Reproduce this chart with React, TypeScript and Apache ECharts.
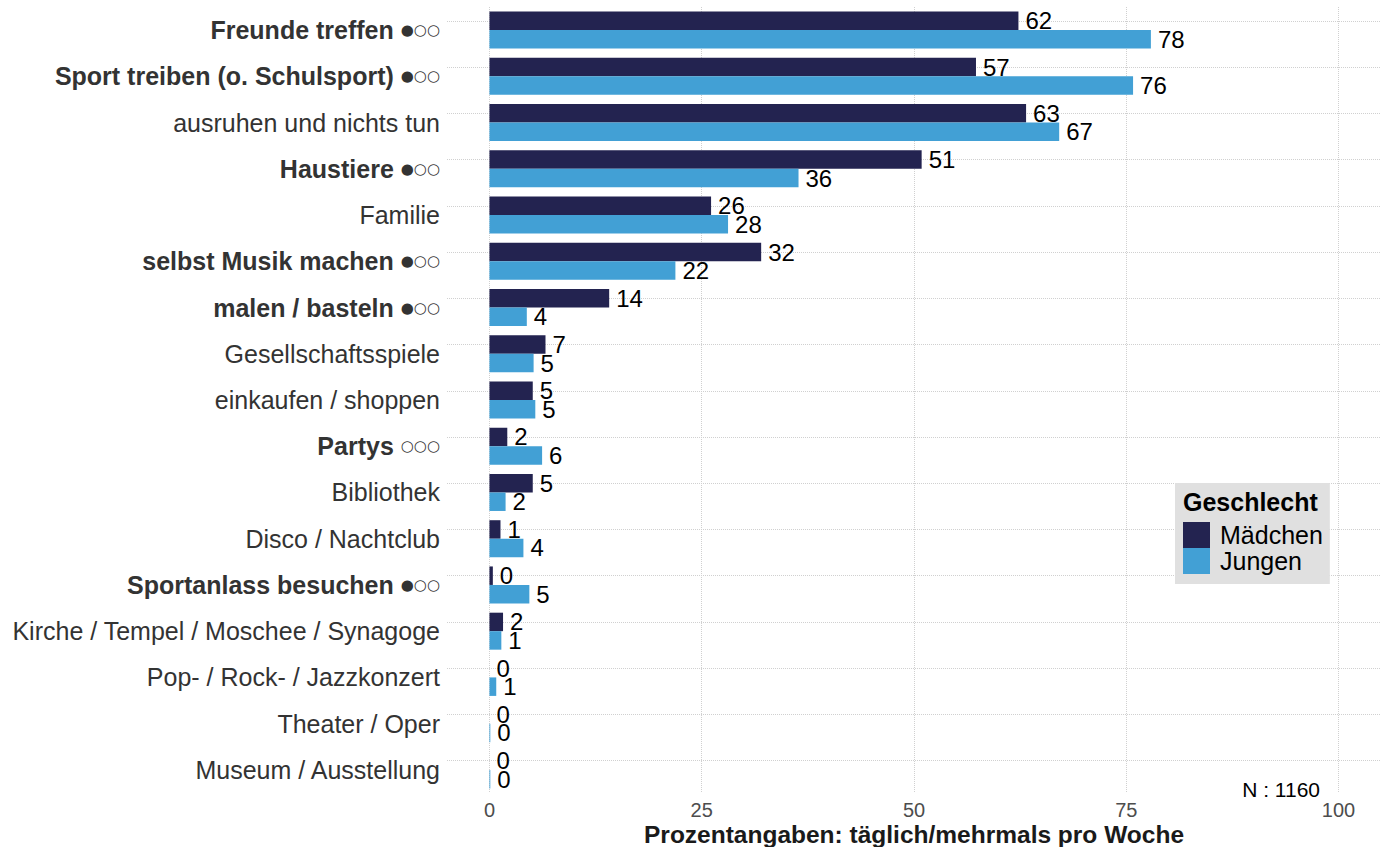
import React, { useEffect, useRef } from "react";
import * as echarts from "echarts";

const categories = [
  "Freunde treffen",
  "Sport treiben (o. Schulsport)",
  "ausruhen und nichts tun",
  "Haustiere",
  "Familie",
  "selbst Musik machen",
  "malen / basteln",
  "Gesellschaftsspiele",
  "einkaufen / shoppen",
  "Partys",
  "Bibliothek",
  "Disco / Nachtclub",
  "Sportanlass besuchen",
  "Kirche / Tempel / Moschee / Synagoge",
  "Pop- / Rock- / Jazzkonzert",
  "Theater / Oper",
  "Museum / Ausstellung",
];
const marks = ["●○○", "●○○", "", "●○○", "", "●○○", "●○○", "", "", "○○○", "", "", "●○○", "", "", "", ""];
const maedchen = [62.3, 57.3, 63.2, 50.9, 26.1, 32.0, 14.1, 6.6, 5.1, 2.1, 5.1, 1.3, 0.4, 1.6, 0, 0, 0];
const jungen = [77.9, 75.8, 67.1, 36.4, 28.1, 21.9, 4.4, 5.2, 5.4, 6.2, 1.9, 4.0, 4.7, 1.4, 0.8, 0.1, 0.1];
const xTicks = [0, 25, 50, 75, 100];
const seriesNames = ["Mädchen", "Jungen"];
const colors = ["#232350", "#42a0d5"];
const legendTitle = "Geschlecht";
const xTitle = "Prozentangaben: täglich/mehrmals pro Woche";
const nText = "N : 1160";

const FONT = "'Liberation Sans', Arial, sans-serif";

export default function App() {
  const ref = useRef<HTMLDivElement>(null);
  useEffect(() => {
    if (!ref.current) return;
    const chart = echarts.init(ref.current, undefined, { renderer: "svg" });
    const labelOpt = {
      show: true,
      position: "right",
      distance: 7,
      fontSize: 24,
      fontFamily: FONT,
      color: "#000",
      formatter: (p: any) => String(Math.round(p.value)),
    };
    chart.setOption({
      animation: false,
      backgroundColor: "#fff",
      textStyle: { fontFamily: FONT },
      grid: {
        left: 447,
        width: 934,
        top: 7,
        height: 786,
        containLabel: false,
        outerBoundsMode: "none",
      },
      xAxis: {
        type: "value",
        min: -5,
        max: 105,
        axisLine: { show: false },
        axisTick: { show: false, customValues: xTicks },
        axisLabel: {
          customValues: xTicks,
          fontSize: 20,
          color: "#4d4d4d",
          margin: 7,
          fontFamily: FONT,
        },
        splitLine: { show: true, lineStyle: { type: "dotted", color: "#d0d0d0", width: 1 } },
        name: xTitle,
        nameLocation: "middle",
        nameGap: 29,
        nameMoveOverlap: false,
        nameTextStyle: { fontSize: 24.5, fontWeight: "bold", color: "#1a1a1a", fontFamily: FONT },
      },
      yAxis: {
        type: "category",
        data: categories,
        inverse: true,
        axisLine: { show: false },
        axisTick: { show: false },
        splitLine: { show: false },
        axisLabel: {
          margin: 7,
          fontSize: 25,
          color: "#333",
          fontFamily: FONT,
          formatter: (v: string) => {
            const i = categories.indexOf(v);
            return marks[i] ? `{b|${v}} {m|${marks[i]}}` : `{n|${v}}`;
          },
          rich: {
            b: { fontSize: 25, fontWeight: "bold", color: "#333", fontFamily: FONT },
            m: { fontSize: 15, color: "#333", fontFamily: "'DejaVu Sans', sans-serif" },
            n: { fontSize: 25, color: "#333", fontFamily: FONT },
          },
        },
      },
      legend: {
        data: seriesNames,
        orient: "vertical",
        left: 1175,
        top: 483,
        padding: [39, 7, 10, 8],
        itemWidth: 27,
        itemHeight: 26,
        itemGap: 0,
        icon: "rect",
        backgroundColor: "#e0e0e0",
        textStyle: { fontSize: 25, color: "#000", fontFamily: FONT, padding: [0, 0, 0, 5] },
      },
      graphic: [
        {
          type: "text",
          left: 1183,
          top: 489,
          z: 100,
          style: { text: legendTitle, fontSize: 25, fontWeight: "bold", fill: "#000", fontFamily: FONT },
        },
        {
          type: "text",
          right: 61,
          top: 779,
          z: 100,
          style: { text: nText, fontSize: 21, fill: "#000", fontFamily: FONT },
        },
      ],
      series: [
        {
          name: seriesNames[0],
          type: "bar",
          data: maedchen,
          barGap: "0%",
          barCategoryGap: "20%",
          itemStyle: { color: colors[0] },
          label: labelOpt,
          z: 2,
          markLine: {
            silent: true,
            z: 1,
            symbol: ["none", "none"],
            label: { show: false },
            lineStyle: { type: "dotted", color: "#d0d0d0", width: 1 },
            data: categories.map((c) => ({ yAxis: c })),
          },
        },
        {
          name: seriesNames[1],
          type: "bar",
          data: jungen,
          barGap: "0%",
          barCategoryGap: "20%",
          itemStyle: { color: colors[1] },
          label: labelOpt,
          z: 2,
        },
      ],
    });
    return () => chart.dispose();
  }, []);
  return (
    <div
      ref={ref}
      style={{ position: "fixed", left: 0, top: 0, width: 1381, height: 847 }}
    />
  );
}
